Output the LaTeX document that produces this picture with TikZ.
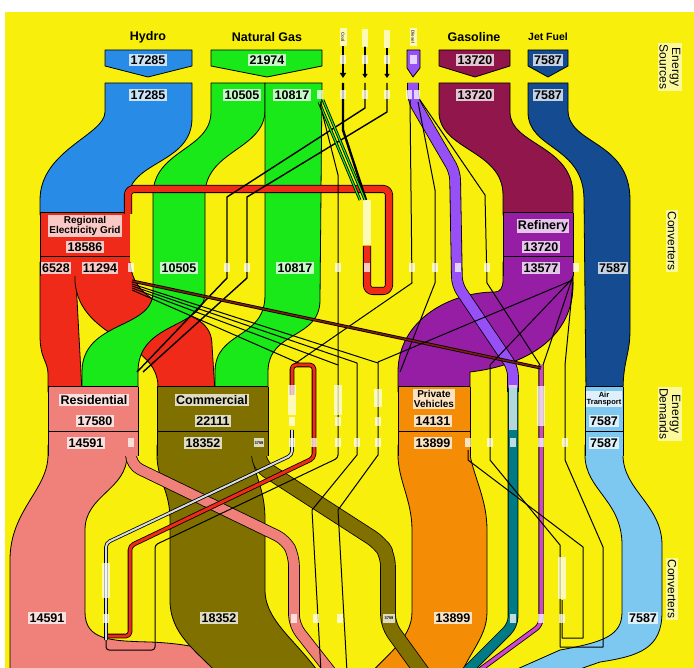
\documentclass[tikz,border=0pt]{standalone}
\usepackage{fontspec}
\setmainfont{Liberation Sans}
\usetikzlibrary{arrows.meta}
\definecolor{yellowBg}{RGB}{248,240,12}
\definecolor{hydroCol}{RGB}{40,140,230}
\definecolor{gasCol}{RGB}{25,232,25}
\definecolor{gridCol}{RGB}{240,42,25}
\definecolor{gasolineCol}{RGB}{145,22,75}
\definecolor{jetCol}{RGB}{20,75,145}
\definecolor{refCol}{RGB}{150,30,165}
\definecolor{dieselCol}{RGB}{150,80,245}
\definecolor{resCol}{RGB}{240,128,122}
\definecolor{comCol}{RGB}{128,112,0}
\definecolor{pvCol}{RGB}{245,140,5}
\definecolor{airCol}{RGB}{125,200,240}
\definecolor{tealCol}{RGB}{0,122,132}
\definecolor{magCol}{RGB}{205,70,205}
\definecolor{brownCol}{RGB}{125,30,15}
\definecolor{steamCol}{RGB}{215,220,225}
\tikzset{
  band/.style={draw=black,line width=0.8pt,line join=round},
  wire/.style={draw=black,line width=1pt,line join=round},
  tube/.style 2 args={draw=black,line width=0.8pt,double=#1,double distance=#2,line join=round},
  val/.style={fill=white,fill opacity=0.75,text opacity=1,inner sep=1.2pt,font=\fontsize{12.5}{13}\selectfont\bfseries},
  title/.style={inner sep=0pt,font=\fontsize{12.5}{13}\selectfont\bfseries},
  tag/.style={fill=white,fill opacity=0.75,text opacity=1,inner sep=0pt,minimum width=6pt,minimum height=9pt},
  vlabel/.style={fill=white,fill opacity=0.7,inner sep=0pt,minimum width=8pt,minimum height=#1},
  side/.style={fill=white,fill opacity=0.6,text opacity=1,rotate=-90,align=center,inner sep=1.5pt,font=\fontsize{12}{12.5}\selectfont}
}
\begin{document}
\begin{tikzpicture}[x=1pt,y=-1pt]
\path[use as bounding box,fill=white] (0,0) rectangle (694,668);
\fill[yellowBg] (5,12) rectangle (694,668);
\begin{scope}
\clip (5,12) rectangle (694,668);

% energy sources
\path[band,fill=hydroCol] (105,50) -- (192,50) -- (192,66) -- (148,77) -- (105,66) -- cycle;
\path[band,fill=gasCol] (211,50) -- (322,50) -- (322,66) -- (267,77) -- (211,66) -- cycle;
\path[band,fill=gasolineCol] (439,50) -- (510,50) -- (510,66) -- (475,77) -- (439,66) -- cycle;
\path[band,fill=jetCol] (528,50) -- (568,50) -- (568,66) -- (548,77) -- (528,66) -- cycle;
\path[band,fill=dieselCol] (407,50) -- (420,50) -- (420,68) -- (413,77) -- (407,68) -- cycle;
\draw[wire,line width=2.4pt,-{Triangle[length=5pt,width=6pt]}] (343,46) -- (343,78);
\draw[wire,line width=1.5pt,-{Triangle[length=4pt,width=5pt]}] (365,46) -- (365,78);
\draw[wire,line width=1.5pt,-{Triangle[length=4pt,width=5pt]}] (387,48) -- (387,78);

% upper flows
\path[band,fill=hydroCol] (105,83) -- (192,83) -- (192,118) .. controls (192,165) and (128,160) .. (128,200) -- (128,215) -- (40,215) -- (40,200) .. controls (40,150) and (105,135) .. (105,112) -- cycle;
\path[band,fill=gasolineCol] (439,83) -- (510,83) -- (510,112) .. controls (510,145) and (573,145) .. (573,195) -- (573,215) -- (503,215) -- (503,195) .. controls (503,150) and (439,150) .. (439,112) -- cycle;
\path[band,fill=jetCol] (528,83) -- (568,83) -- (568,110) .. controls (568,145) and (630,140) .. (630,200) -- (630,330) .. controls (630,355) and (623,360) .. (623,392) -- (586,392) -- (584,200) .. controls (584,145) and (528,150) .. (528,112) -- cycle;
\path[band,fill=gridCol] (40,262) -- (75,262) -- (82,392) -- (48,392) -- (48,375) .. controls (48,360) and (40,360) .. (40,335) -- cycle;
\path[band,fill=gridCol] (75,262) -- (130,262) .. controls (135,320) and (212,300) .. (212,345) -- (215,392) -- (158,392) -- (158,387) .. controls (158,340) and (80,340) .. (75,282) -- cycle;
\path[band,fill=gasCol] (211,83) -- (265,83) -- (265,110) .. controls (265,150) and (205,150) .. (205,195) -- (205,292) .. controls (205,330) and (138,320) .. (138,372) -- (138,392) -- (82,392) -- (82,372) .. controls (82,320) and (153,330) .. (153,292) -- (153,195) .. controls (153,150) and (211,150) .. (211,112) -- cycle;
\path[band,fill=gasCol] (265,83) -- (322,83) -- (320,300) .. controls (320,340) and (268,330) .. (268,372) -- (268,392) -- (215,392) -- (215,372) .. controls (215,330) and (265,340) .. (265,295) -- cycle;
\path[band,fill=refCol] (503,262) -- (573,262) -- (573,285) .. controls (573,335) and (530,365) .. (470,372) -- (470,392) -- (398,392) -- (398,372) .. controls (398,320) and (450,292) .. (495,292) .. controls (500,292) and (503,288) .. (503,280) -- cycle;

% lower flows
\path[band,fill=resCol] (48,445) -- (127,445) -- (127,455) .. controls (127,490) and (85,495) .. (85,530) -- (85,612) .. controls (85,640) and (110,641) .. (150,642) .. controls (200,644) and (245,655) .. (275,690) -- (10,690) -- (10,560) .. controls (10,510) and (48,490) .. (48,455) -- cycle;
\path[band,fill=comCol] (157,445) -- (252,445) -- (252,455) .. controls (256,480) and (265,490) .. (265,520) -- (265,590) .. controls (265,625) and (305,645) .. (330,690) -- (232,690) .. controls (205,655) and (170,640) .. (170,600) -- (170,520) .. controls (170,490) and (157,480) .. (157,455) -- cycle;
\path[band,fill=pvCol] (398,445) -- (470,445) -- (470,455) .. controls (475,480) and (487,500) .. (487,530) -- (487,612) .. controls (487,640) and (465,655) .. (455,690) -- (355,690) .. controls (385,655) and (412,640) .. (412,612) -- (412,530) .. controls (412,500) and (398,480) .. (398,455) -- cycle;
\path[band,fill=airCol] (585,445) -- (623,445) -- (623,455) .. controls (623,490) and (662,505) .. (662,545) -- (662,612) .. controls (662,648) and (640,656) .. (600,662) -- (520,690) -- (470,690) -- (560,650) .. controls (605,642) and (622,635) .. (622,612) -- (622,545) .. controls (622,500) and (585,490) .. (585,455) -- cycle;
\draw[tube={resCol}{10pt},rounded corners=10pt] (131,440) -- (131,465) -- (286,540) -- (294,556) -- (294,625) -- (345,690);
\draw[tube={comCol}{14pt},rounded corners=10pt] (259,440) -- (259,465) -- (380,543) -- (388,556) -- (388,625) -- (435,690);
\draw[tube={dieselCol}{10pt},rounded corners=8pt] (413,83) -- (413,100) -- (455,172) -- (457,285) -- (513,368) -- (513,392);
\draw[tube={tealCol}{9pt},rounded corners=8pt] (513,388) -- (513,625) -- (455,683);
\draw[tube={magCol}{3.5pt},rounded corners=6pt] (541,365) -- (541,625) -- (466,680);

% converters
\fill[gridCol] (40,213) rectangle (130,276);
\draw[wire] (40,213) -- (130,213);
\draw[wire] (40,257) -- (130,257);
\draw[wire] (40,213) -- (40,276);
\fill[refCol] (503,213) rectangle (573,276);
\draw[wire] (503,213) -- (573,213);
\draw[wire] (503,257) -- (573,257);
\draw[wire] (503,213) -- (503,276);
\draw[wire] (573,213) -- (573,276);

% energy demands
\fill[resCol] (48,387) rectangle (138,456);
\fill[comCol] (157,387) rectangle (268,456);
\fill[pvCol] (398,387) rectangle (470,456);
\fill[airCol] (585,387) rectangle (623,456);
\draw[wire] (48,387) -- (138,387);
\draw[wire] (48,432) -- (138,432);
\draw[wire] (48,387) -- (48,456);
\draw[wire] (138,387) -- (138,456);
\draw[wire] (157,387) -- (268,387);
\draw[wire] (157,432) -- (268,432);
\draw[wire] (157,387) -- (157,456);
\draw[wire] (268,387) -- (268,456);
\draw[wire] (398,387) -- (470,387);
\draw[wire] (398,432) -- (470,432);
\draw[wire] (398,387) -- (398,456);
\draw[wire] (470,387) -- (470,456);
\draw[wire] (585,387) -- (623,387);
\draw[wire] (585,432) -- (623,432);
\draw[wire] (585,387) -- (585,456);
\draw[wire] (623,387) -- (623,456);

% grid loop through thermal generation
\draw[tube={gridCol}{6.5pt},rounded corners=6pt] (128,214) -- (128,189) -- (389,189) -- (389,291) -- (367,291) -- (367,246);

% thin flows
\draw[wire,line width=2.4pt] (343,83) -- (343,130) -- (366,200);
\draw[wire,line width=1.4pt] (365,83) -- (365,108) -- (227,197) -- (227,278) -- (137,372);
\draw[wire,line width=1.4pt] (387,83) -- (387,112) -- (247,197) -- (247,278) -- (143,372);
\draw[tube={gasCol}{1.2pt}] (319,102) -- (360,200);
\draw[tube={gasCol}{1.2pt}] (323,100) -- (365,200);
\draw[wire] (320,104) -- (338,175) -- (338,365);
\draw[wire] (410,100) -- (412,283) -- (293,365);
\draw[wire] (418,102) -- (435,190) -- (435,283) -- (400,372);
\draw[wire] (420,100) -- (485,195) -- (487,283) -- (540,365);
\draw[tube={brownCol}{1.6pt}] (132,281) -- (541,368);
\draw[wire] (132,284) -- (378,363);
\draw[wire] (132,286) -- (357,363);
\draw[wire] (132,288) -- (338,365);
\draw[wire] (132,290) -- (303,365);
\draw[wire] (573,276) -- (543,365);
\draw[wire] (573,278) -- (490,365);
\draw[wire] (573,280) -- (378,362);
\draw[wire] (573,282) -- (565,365);
\draw[tube={gridCol}{3pt},rounded corners=4pt] (292,395) -- (292,365) -- (314,365) -- (314,458) -- (130,546) -- (130,636) -- (106,636);
\draw[tube={steamCol}{2pt},rounded corners=4pt] (292,430) -- (292,455) -- (106,543) -- (106,640);
\draw[wire,rounded corners=3pt] (338,365) -- (338,458) -- (155,545) -- (155,650) -- (106,650) -- (106,640);
\draw[wire] (357,363) -- (357,455) -- (312,510) -- (322,690);
\draw[wire] (378,362) -- (378,455) -- (338,510) -- (348,690);
\draw[wire] (468,450) -- (468,460) -- (583,547) -- (583,638) -- (562,638) -- (562,600);
\draw[wire] (490,365) -- (490,460) -- (560,545) -- (560,647) -- (603,647) -- (603,547) -- (565,460) -- (565,365);
\end{scope}

% source names and values
\node[title] (hydroName) at (148,37) {Hydro};
\node[title] (gasName) at (267,37) {Natural Gas};
\node[title] (gasolineName) at (474,37) {Gasoline};
\node[title,font=\fontsize{10.5}{11}\selectfont\bfseries] (jetName) at (548,37) {Jet Fuel};
\node[vlabel=7pt,minimum width=18pt,rotate=-90,font=\fontsize{4.5}{5}\selectfont\bfseries] (coalName) at (343,37) {Coal};
\node[vlabel=18pt,minimum width=6pt] (oilName) at (365,38) {};
\node[vlabel=18pt,minimum width=6pt] (propName) at (387,39) {};
\node[vlabel=7pt,minimum width=18pt,rotate=-90,font=\fontsize{4.5}{5}\selectfont\bfseries] (dieselName) at (413,37) {Diesel};
\node[val] (hydroSrc) at (148,60) {17285};
\node[val] (gasSrc) at (267,60) {21974};
\node[val] (gasolineSrc) at (475,60) {13720};
\node[val] (jetSrc) at (548,60) {7587};
\node[val] (hydroOut) at (148,95) {17285};
\node[val] (gasOutA) at (242,95) {10505};
\node[val] (gasOutB) at (292,95) {10817};
\node[val] (gasolineOut) at (475,95) {13720};
\node[val] (jetOut) at (548,95) {7587};
\node[tag] (coalT1) at (343,60) {};
\node[tag] (oilT1) at (365,60) {};
\node[tag] (propT1) at (387,60) {};
\node[tag,minimum width=7pt] (dieselT1) at (413,60) {};
\node[tag] (gasT) at (320,95) {};
\node[tag] (coalT2) at (343,95) {};
\node[tag] (oilT2) at (365,95) {};
\node[tag] (propT2) at (387,95) {};
\node[tag] (dieselT2) at (409,95) {};
\node[tag] (dieselT3) at (417,95) {};

% converter labels
\node[val,align=center,font=\fontsize{10}{10.5}\selectfont\bfseries] (gridName) at (85,226) {Regional\\Electricity Grid};
\node[val] (gridIn) at (85,247) {18586};
\node[val] (gridOutA) at (56,268) {6528};
\node[val] (gridOutB) at (100,268) {11294};
\node[val] (convGasA) at (179,268) {10505};
\node[val] (convGasB) at (295,268) {10817};
\node[val] (refName) at (543,226) {Refinery};
\node[val] (refIn) at (541,247) {13720};
\node[val] (refOut) at (541,268) {13577};
\node[val] (convJet) at (613,268) {7587};
\node[vlabel=45pt] (thermName) at (367,223) {};
\node[tag] (gridT) at (131,268) {};
\node[tag] (convT1) at (227,268) {};
\node[tag] (convT2) at (247,268) {};
\node[tag] (convT3) at (338,268) {};
\node[tag] (thermT) at (367,268) {};
\node[tag] (convT4) at (412,268) {};
\node[tag] (convT5) at (435,268) {};
\node[tag] (convT6) at (458,268) {};
\node[tag] (convT7) at (487,268) {};
\node[tag] (refT) at (576,268) {};

% demand labels
\node[val] (resName) at (94,400) {Residential};
\node[val] (resIn) at (95,421) {17580};
\node[val] (resOut) at (86,443) {14591};
\node[val] (comName) at (212,400) {Commercial};
\node[val] (comIn) at (213,421) {22111};
\node[val] (comOut) at (203,443) {18352};
\node[val,align=center,font=\fontsize{10}{10}\selectfont\bfseries] (pvName) at (434,399) {Private\\Vehicles};
\node[val] (pvIn) at (433,421) {14131};
\node[val] (pvOut) at (433,443) {13899};
\node[val,align=center,font=\fontsize{7.5}{7.5}\selectfont\bfseries] (airName) at (604,399) {Air\\Transport};
\node[val] (airIn) at (604,421) {7587};
\node[val] (airOut) at (604,443) {7587};
\node[tag] (resT) at (131,443) {};
\node[tag,minimum width=10pt,font=\fontsize{4}{4}\selectfont\bfseries] (comT) at (259,443) {3759};
\node[vlabel=30pt] (tubeL1) at (292,400) {};
\node[vlabel=30pt] (tubeL3) at (338,400) {};
\node[vlabel=18pt] (tubeL5) at (378,398) {};
\node[vlabel=45pt] (cvName) at (513,408) {};
\node[vlabel=40pt] (ptName) at (541,406) {};
\node[tag] (tubeU1) at (292,422) {};
\node[tag] (tubeU3) at (338,422) {};
\node[tag] (tubeU5) at (378,422) {};
\node[tag] (tubeT1) at (292,443) {};
\node[tag] (tubeT2) at (314,443) {};
\node[tag] (tubeT3) at (338,443) {};
\node[tag] (tubeT4) at (357,443) {};
\node[tag] (tubeT5) at (378,443) {};
\node[tag] (pvT) at (468,443) {};
\node[tag] (pvT2) at (490,443) {};
\node[tag] (cvT) at (513,443) {};
\node[tag] (ptT) at (541,443) {};
\node[tag] (railT) at (565,443) {};

% lower converter labels
\node[val] (resConv) at (47,618) {14591};
\node[val] (comConv) at (219,618) {18352};
\node[val] (pvConv) at (453,618) {13899};
\node[val] (airConv) at (643,618) {7587};
\node[tag,minimum width=12pt,font=\fontsize{4}{4}\selectfont\bfseries] (comConvB) at (389,618) {3759};
\node[vlabel=35pt] (resConvName) at (106,580) {};
\node[vlabel=42pt] (railName) at (562,578) {};
\node[tag] (resConvT) at (106,618) {};
\node[tag] (botT1) at (294,618) {};
\node[tag] (botT2) at (316,618) {};
\node[tag] (botT3) at (340,618) {};
\node[tag] (botT4) at (513,618) {};
\node[tag] (botT5) at (541,618) {};
\node[tag] (botT6) at (562,618) {};

% row names
\node[side] (rowSources) at (670,67) {Energy\\Sources};
\node[side] (rowConv) at (672,241) {Converters};
\node[side] (rowDemands) at (670,414) {Energy\\Demands};
\node[side] (rowConvB) at (672,589) {Converters};
\end{tikzpicture}
\end{document}
